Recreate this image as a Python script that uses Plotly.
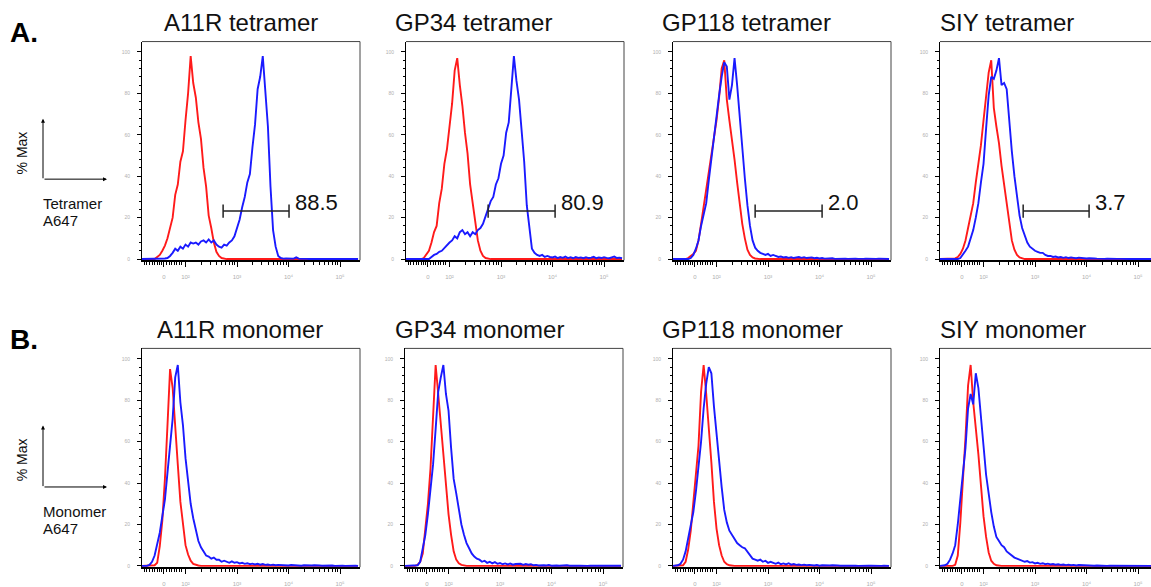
import numpy as np
import plotly.graph_objects as go

W, H = 1151, 587

# Histogram bin centres on the display (biexponential) A647 axis, in decades
CHANNEL = np.round(np.arange(1.15, 5.351, 0.05), 2)

# x-axis labelling of the biexponential scale
X_TICK_POS = [1.58, 2, 3, 4, 5]
X_TICK_TEXT = ["0", "10\u00b2", "10\u00b3", "10\u2074", "10\u2075"]
Y_TICK_POS = [0, 20, 40, 60, 80, 100]
Y_TICK_TEXT = ["0", "20", "40", "60", "80", "100"]

TITLES_TET = ["A11R tetramer", "GP34 tetramer", "GP118 tetramer", "SIY tetramer"]
TITLES_MONO = ["A11R monomer", "GP34 monomer", "GP118 monomer", "SIY monomer"]

# tetramer-positive gate (display decades) and the % of stained cells inside it
GATE_LO = [2.73, 2.75, 2.75, 2.77]
GATE_HI = [4.01, 4.05, 4.05, 4.05]
GATE_LEVEL = 23.2
GATE_PCT = ["88.5", "80.9", "2.0", "3.7"]

# % Max histograms: CONTROL = red trace, SAMPLE = blue trace
A11R_TET_CONTROL = [
    0, 0, 0, 0, 0, 0, 1, 2, 4, 6.5,
    10, 15, 20, 31, 36, 47, 52, 67, 80, 98,
    85, 78, 66, 58, 44, 35, 21, 15, 8, 3.5,
    1.5, 0.5, 0.2, 0, 0, 0, 0, 0, 0, 0,
    0, 0, 0, 0, 0, 0, 0, 0, 0, 0,
    0, 0, 0, 0, 0, 0, 0, 0, 0, 0,
    0, 0, 0, 0, 0, 0, 0, 0, 0, 0,
    0, 0, 0, 0, 0, 0, 0, 0, 0, 0,
    0, 0, 0, 0, 0]
A11R_TET_SAMPLE = [
    0, 0, 0, 0, 0, 0, 0, 0, 0, 0.3,
    0.5, 1.5, 3, 5, 4, 6, 5, 7, 6, 8,
    7.5, 8, 7, 8.5, 9, 8, 9.5, 8, 9, 7,
    6, 5.5, 7, 6.5, 8, 9, 11, 15, 19, 25,
    30, 37, 41, 54, 65, 82, 88, 98, 83, 64,
    35, 14, 6, 1.5, 0.5, 0.2, 0.3, 0.2, 0.1, 0.2,
    0.8, 0.2, 0.1, 0.2, 0.1, 0, 0.1, 0, 0, 0,
    0, 0.1, 0, 0, 0.1, 0, 0, 0.1, 0, 0,
    0, 0.1, 0, 0, 0]

GP34_TET_CONTROL = [
    0, 0, 0, 0, 0, 0, 0, 0.5, 2, 4,
    8, 13, 16, 27, 34, 46, 53, 65, 75, 91,
    97, 84, 74, 61, 51, 36, 27, 16, 9, 4,
    1.5, 0.5, 0.2, 0, 0, 0, 0, 0, 0, 0,
    0, 0, 0, 0, 0, 0, 0, 0, 0, 0,
    0, 0, 0, 0, 0, 0, 0, 0, 0, 0,
    0, 0, 0, 0, 0, 0, 0, 0, 0, 0,
    0, 0, 0, 0, 0, 0, 0, 0, 0, 0,
    0, 0, 0, 0, 0]
GP34_TET_SAMPLE = [
    0, 0, 0, 0, 0, 0, 0, 0, 0, 0,
    1, 2, 2.5, 3.5, 4, 5.5, 7, 8, 9, 11,
    10, 13, 14, 12, 13, 11, 13, 12, 14, 15,
    17, 21, 24, 28, 30, 36, 39, 46, 50, 61,
    66, 83, 98, 86, 77, 62, 47, 26, 14, 5,
    3, 2, 1.5, 2, 1, 1.5, 1, 0.8, 1.2, 0.5,
    1, 0.6, 1.2, 0.5, 0.9, 0.4, 1, 0.6, 0.8, 0.4,
    0.9, 0.5, 0.7, 1.1, 0.4, 0.8, 0.5, 0.9, 0.6, 0.4,
    0.8, 1.2, 0.5, 0.7, 0.4]

GP118_TET_CONTROL = [
    0, 0, 0, 0, 0, 0, 0.5, 1.5, 2.5, 4,
    9, 17, 25, 33, 43, 51, 59, 67, 78, 92,
    96, 77, 67, 58, 48, 37, 27, 17, 10, 4.5,
    2, 0.8, 0.3, 0, 0, 0, 0, 0, 0, 0,
    0, 0, 0, 0, 0, 0, 0, 0, 0, 0,
    0, 0, 0, 0, 0, 0, 0, 0, 0, 0,
    0, 0, 0, 0, 0, 0, 0, 0, 0, 0,
    0, 0, 0, 0, 0, 0, 0, 0, 0, 0,
    0, 0, 0, 0, 0]
GP118_TET_SAMPLE = [
    0, 0, 0, 0, 0, 0, 0, 0.5, 2, 5,
    9, 16, 22, 27, 38, 49, 58, 69, 79, 88,
    95, 93, 77, 84, 97, 84, 68, 53, 39, 26,
    16, 9, 5.5, 4, 3, 2.5, 2, 2.5, 1.5, 2,
    1.5, 1, 1.2, 0.8, 1, 0.6, 0.9, 0.5, 0.8, 1,
    0.6, 0.9, 0.5, 0.7, 0.8, 0.4, 0.6, 0.3, 0.5, 0.2,
    0.3, 0.2, 0.4, 0.1, 0.2, 0.3, 0.1, 0.2, 0.1, 0.2,
    0.1, 0.2, 0.1, 0, 0.1, 0.2, 0.1, 0, 0.1, 0.1,
    0.2, 0.1, 0, 0.1, 0]

SIY_TET_CONTROL = [
    0, 0, 0, 0, 0, 0, 0.3, 1, 2.5, 5,
    9, 15, 21, 27, 37, 46, 55, 67, 78, 90,
    96, 73, 64, 56, 45, 36, 25, 16, 9, 4.5,
    2, 0.8, 0.3, 0, 0, 0, 0, 0, 0, 0,
    0, 0, 0, 0, 0, 0, 0, 0, 0, 0,
    0, 0, 0, 0, 0, 0, 0, 0, 0, 0,
    0, 0, 0, 0, 0, 0, 0, 0, 0, 0,
    0, 0, 0, 0, 0, 0, 0, 0, 0, 0,
    0, 0, 0, 0, 0]
SIY_TET_SAMPLE = [
    0, 0, 0, 0, 0, 0, 0, 0, 0.5, 2,
    4, 6, 10, 14, 20, 27, 37, 46, 63, 79,
    88, 87, 91, 97, 84, 85, 82, 65, 52, 40,
    30, 21, 15, 11, 8, 6, 5, 4, 3.5, 3,
    3, 2, 1.5, 1.5, 1, 1.2, 0.8, 1, 0.6, 0.9,
    0.5, 0.8, 0.6, 0.4, 0.7, 0.5, 0.6, 0.3, 0.4, 0.2,
    0.3, 0.2, 0.1, 0.3, 0.1, 0.2, 0.1, 0.1, 0.2, 0.1,
    0.1, 0, 0.2, 0.1, 0, 0.1, 0.1, 0.2, 0, 0.1,
    0.1, 0, 0.1, 0.2, 0]

A11R_MONO_CONTROL = [
    0, 0, 0, 0, 0, 0.3, 1.5, 9.5, 22, 42,
    68, 95, 86, 65, 49, 31, 19, 10, 5.5, 2.5,
    1, 0.5, 0.2, 0, 0, 0, 0, 0, 0, 0,
    0, 0, 0, 0, 0, 0, 0, 0, 0, 0,
    0, 0, 0, 0, 0, 0, 0, 0, 0, 0,
    0, 0, 0, 0, 0, 0, 0, 0, 0, 0,
    0, 0, 0, 0, 0, 0, 0, 0, 0, 0,
    0, 0, 0, 0, 0, 0, 0, 0, 0, 0,
    0, 0, 0, 0, 0]
A11R_MONO_SAMPLE = [
    0, 0, 0, 0.5, 2, 5, 10, 16, 24, 32,
    45, 58, 71, 91, 97, 79, 68, 52, 42, 30,
    23, 17, 12, 9, 7, 5, 4.5, 3.5, 4, 3,
    3, 2, 2.5, 2, 1.5, 2.2, 1.5, 1.8, 1.2, 1.5,
    1, 1.3, 0.8, 1.1, 0.7, 1, 0.6, 0.9, 0.5, 0.7,
    0.4, 0.6, 0.3, 0.5, 0.4, 0.3, 0.5, 0.2, 0.4, 0.3,
    0.2, 0.3, 0.1, 0.3, 0.2, 0.1, 0.2, 0.3, 0.1, 0.2,
    0.1, 0.2, 0.1, 0.1, 0.2, 0, 0.1, 0.2, 0.1, 0,
    0.1, 0.1, 0, 0.1, 0]

GP34_MONO_CONTROL = [
    0, 0, 0, 0, 0, 0.5, 2, 6, 17, 30,
    47, 70, 97, 83, 68, 51, 37, 25, 15, 7,
    3, 1.3, 0.5, 0.2, 0, 0, 0, 0, 0, 0,
    0, 0, 0, 0, 0, 0, 0, 0, 0, 0,
    0, 0, 0, 0, 0, 0, 0, 0, 0, 0,
    0, 0, 0, 0, 0, 0, 0, 0, 0, 0,
    0, 0, 0, 0, 0, 0, 0, 0, 0, 0,
    0, 0, 0, 0, 0, 0, 0, 0, 0, 0,
    0, 0, 0, 0, 0]
GP34_MONO_SAMPLE = [
    0, 0, 0, 0, 0, 0.3, 2, 8, 15, 25,
    38, 49, 66, 84, 91, 97, 83, 75, 57, 42,
    35, 27, 20, 15, 11, 8.5, 6, 4.5, 3.5, 3,
    2, 2.5, 1.5, 2, 1.2, 1.8, 1, 1.4, 0.8, 1.2,
    0.7, 1.1, 0.6, 0.9, 0.8, 1, 0.5, 0.9, 0.6, 0.8,
    0.3, 0.5, 0.2, 0.4, 0.3, 0.2, 0.4, 0.1, 0.3, 0.2,
    0.1, 0.2, 0.1, 0.3, 0.1, 0, 0.2, 0.1, 0.1, 0,
    0.1, 0, 0.1, 0.1, 0, 0.1, 0, 0.1, 0, 0.1,
    0, 0.1, 0, 0, 0.1]

GP118_MONO_CONTROL = [
    0, 0, 0, 0, 0.3, 2, 8, 17, 30, 45,
    58, 84, 97, 83, 68, 50, 31, 18, 10, 5,
    2, 0.8, 0.3, 0, 0, 0, 0, 0, 0, 0,
    0, 0, 0, 0, 0, 0, 0, 0, 0, 0,
    0, 0, 0, 0, 0, 0, 0, 0, 0, 0,
    0, 0, 0, 0, 0, 0, 0, 0, 0, 0,
    0, 0, 0, 0, 0, 0, 0, 0, 0, 0,
    0, 0, 0, 0, 0, 0, 0, 0, 0, 0,
    0, 0, 0, 0, 0]
GP118_MONO_SAMPLE = [
    0, 0, 0.3, 1, 3, 7, 13, 19, 26, 36,
    47, 60, 76, 88, 96, 93, 77, 63, 50, 38,
    27, 21, 17, 15, 13, 11, 10, 9, 8.5, 7,
    5, 3.5, 3, 2.5, 3, 2, 2.5, 1.5, 2, 1.5,
    1, 1.6, 0.8, 1.2, 0.7, 1.3, 0.6, 0.9, 0.5, 0.7,
    0.4, 0.6, 0.3, 0.5, 0.3, 0.2, 0.4, 0.1, 0.3, 0.2,
    0.1, 0.2, 0.3, 0.1, 0.2, 0.1, 0, 0.2, 0.1, 0.1,
    0.2, 0.1, 0, 0.1, 0.1, 0, 0.1, 0.1, 0, 0.1,
    0.1, 0, 0.1, 0, 0]

SIY_MONO_CONTROL = [
    0, 0, 0, 0, 0, 0, 0.5, 5, 21, 40,
    62, 87, 97, 79, 68, 54, 39, 24, 14, 6.5,
    2.5, 1, 0.3, 0, 0, 0, 0, 0, 0, 0,
    0, 0, 0, 0, 0, 0, 0, 0, 0, 0,
    0, 0, 0, 0, 0, 0, 0, 0, 0, 0,
    0, 0, 0, 0, 0, 0, 0, 0, 0, 0,
    0, 0, 0, 0, 0, 0, 0, 0, 0, 0,
    0, 0, 0, 0, 0, 0, 0, 0, 0, 0,
    0, 0, 0, 0, 0]
SIY_MONO_SAMPLE = [
    0, 0, 0.3, 1, 3, 6, 10, 20, 33, 45,
    57, 76, 83, 78, 93, 86, 70, 58, 44, 34,
    26, 19, 14, 12, 10, 9, 7, 6, 5, 4,
    3.5, 3, 2.5, 2, 2.3, 1.6, 1.8, 1.2, 1.5, 1,
    1.3, 0.8, 1.1, 0.7, 0.9, 0.6, 0.8, 0.5, 0.7, 0.4,
    0.6, 0.3, 0.5, 0.2, 0.4, 0.3, 0.2, 0.1, 0.3, 0.2,
    0.1, 0.2, 0.1, 0.1, 0.2, 0, 0.1, 0.1, 0, 0.2,
    0.1, 0, 0.1, 0.1, 0, 0.1, 0, 0.1, 0.1, 0,
    0.1, 0, 0, 0.1, 0]

HISTOGRAMS = [
    (A11R_TET_CONTROL, A11R_TET_SAMPLE),
    (GP34_TET_CONTROL, GP34_TET_SAMPLE),
    (GP118_TET_CONTROL, GP118_TET_SAMPLE),
    (SIY_TET_CONTROL, SIY_TET_SAMPLE),
    (A11R_MONO_CONTROL, A11R_MONO_SAMPLE),
    (GP34_MONO_CONTROL, GP34_MONO_SAMPLE),
    (GP118_MONO_CONTROL, GP118_MONO_SAMPLE),
    (SIY_MONO_CONTROL, SIY_MONO_SAMPLE),
]
for pair in HISTOGRAMS:
    for series in pair:
        assert len(series) == len(CHANNEL)

# ---- panel geometry (pixels) ----
COL_LEFT = [[142, 406, 673, 940], [142, 405, 673, 940]]
ROW_TB = [(42, 263), (352, 573)]
TITLE_LEFT = [[162, 393, 660, 938], [155, 393, 660, 938]]
TITLE_Y = [23, 333]
PANEL_W = 218
PX_PER_DECADE = 51.5
U_LEFT = 1.155
Y_RANGE = [-0.6, 105]

RED = "#ff1a1a"
BLUE = "#1a1aff"
FONT = "Liberation Sans, Arial, Helvetica, sans-serif"

# minor ticks of the biexponential x scale
x_minor = [1.2, 1.25, 1.3, 1.35, 1.4, 1.45, 1.5, 1.54, 1.63, 1.68, 1.73, 1.78, 1.83, 1.88, 1.93]
for d in (2, 3, 4):
    for k in range(2, 10):
        x_minor.append(round(d + np.log10(k), 4))
y_minor = [v for v in range(0, 104, 4) if v % 20 != 0]

fig = go.Figure()
layout = dict(
    width=W, height=H, margin=dict(l=0, r=0, t=0, b=0),
    paper_bgcolor="white", plot_bgcolor="white", showlegend=False,
)
shapes = []
annotations = []

for n in range(8):
    row, col = divmod(n, 4)
    left = COL_LEFT[row][col]
    right = min(left + PANEL_W, W)
    top, bottom = ROW_TB[row]
    ax_id = "" if n == 0 else str(n + 1)
    xname, yname = "xaxis" + ax_id, "yaxis" + ax_id
    xref, yref = "x" + ax_id, "y" + ax_id

    layout[xname] = dict(
        domain=[left / W, right / W],
        range=[U_LEFT, U_LEFT + (right - left) / PX_PER_DECADE],
        anchor=yref, showgrid=False, zeroline=False,
        showline=True, linecolor="black", linewidth=1.5, layer="below traces",
        tickmode="array", tickvals=X_TICK_POS, ticktext=X_TICK_TEXT,
        ticks="outside", ticklen=5, tickwidth=1, tickcolor="black",
        tickfont=dict(size=6, color="#b0b0b0", family=FONT), ticklabelstandoff=5,
        minor=dict(tickvals=x_minor, ticks="outside", ticklen=3, tickwidth=1,
                   tickcolor="black", showgrid=False),
        fixedrange=True,
    )
    layout[yname] = dict(
        domain=[1 - bottom / H, 1 - top / H], range=Y_RANGE,
        anchor=xref, showgrid=False, zeroline=False,
        showline=True, linecolor="black", linewidth=1, layer="below traces",
        tickmode="array", tickvals=Y_TICK_POS, ticktext=Y_TICK_TEXT,
        ticks="outside", ticklen=4, tickwidth=1, tickcolor="black",
        tickfont=dict(size=5, color="#b0b0b0", family=FONT), ticklabelstandoff=6,
        minor=dict(tickvals=y_minor, ticks="outside", ticklen=2, tickwidth=1,
                   tickcolor="black", showgrid=False),
        fixedrange=True,
    )

    control, sample = HISTOGRAMS[n]
    fig.add_trace(go.Scatter(x=CHANNEL, y=control, mode="lines", xaxis=xref, yaxis=yref,
                             line=dict(color=RED, width=1.9), hoverinfo="skip"))
    fig.add_trace(go.Scatter(x=CHANNEL, y=sample, mode="lines", xaxis=xref, yaxis=yref,
                             line=dict(color=BLUE, width=1.9), hoverinfo="skip"))

    # thin frame on top and right
    shapes.append(dict(type="line", xref=xref + " domain", yref=yref + " domain",
                       x0=0, x1=1, y0=1, y1=1, line=dict(color="#444", width=1)))
    if right < W:
        shapes.append(dict(type="line", xref=xref + " domain", yref=yref + " domain",
                           x0=1, x1=1, y0=0, y1=1, line=dict(color="#444", width=1)))

    # panel title
    titles = TITLES_TET if row == 0 else TITLES_MONO
    annotations.append(dict(text=titles[col], xref="paper", yref="paper",
                            x=TITLE_LEFT[row][col] / W, y=1 - TITLE_Y[row] / H,
                            xanchor="left", yanchor="middle", showarrow=False,
                            font=dict(size=24, color="#111", family=FONT)))

    # gate bar with percentage
    if row == 0:
        lo, hi = GATE_LO[col], GATE_HI[col]
        gl = dict(color="#222", width=1.5)
        shapes.append(dict(type="line", xref=xref, yref=yref, x0=lo, x1=hi,
                           y0=GATE_LEVEL, y1=GATE_LEVEL, line=gl))
        for xv in (lo, hi):
            shapes.append(dict(type="line", xref=xref, yref=yref, x0=xv, x1=xv,
                               y0=GATE_LEVEL - 3.2, y1=GATE_LEVEL + 3.2, line=gl))
        annotations.append(dict(text=GATE_PCT[col], xref=xref, yref=yref, x=hi, y=GATE_LEVEL,
                                xanchor="left", yanchor="middle", xshift=4, yshift=9,
                                showarrow=False, font=dict(size=22, color="#111", family=FONT)))

# row letters
for letter, ypx in (("A.", 33), ("B.", 343)):
    annotations.append(dict(text="<b>%s</b>" % letter, xref="paper", yref="paper",
                            x=8 / W, y=1 - ypx / H, xanchor="left", yanchor="middle",
                            showarrow=False, font=dict(size=28, color="black", family=FONT)))

# axis key on the left of each row
for (corner_y, tip_y, lab_y, word) in ((181, 120, 153, "Tetramer"), (492, 430, 463, "Monomer")):
    annotations.append(dict(text="", xref="paper", yref="paper", x=43 / W, y=1 - tip_y / H,
                            ax=0, ay=corner_y - tip_y, showarrow=True, arrowhead=2,
                            arrowsize=0.8, arrowwidth=1, arrowcolor="black", standoff=0))
    annotations.append(dict(text="", xref="paper", yref="paper", x=107 / W, y=1 - corner_y / H,
                            ax=-64, ay=0, showarrow=True, arrowhead=2,
                            arrowsize=0.8, arrowwidth=1, arrowcolor="black", standoff=0))
    annotations.append(dict(text="% Max", xref="paper", yref="paper", x=22 / W, y=1 - (lab_y + 2) / H,
                            xanchor="center", yanchor="middle", textangle=-90, showarrow=False,
                            font=dict(size=14, color="#111", family=FONT)))
    annotations.append(dict(text=word, xref="paper", yref="paper", x=41 / W,
                            y=1 - (corner_y + 25) / H, xanchor="left", yanchor="middle",
                            showarrow=False, font=dict(size=15, color="#111", family=FONT)))
    annotations.append(dict(text="A647", xref="paper", yref="paper", x=41 / W,
                            y=1 - (corner_y + 42) / H, xanchor="left", yanchor="middle",
                            showarrow=False, font=dict(size=15, color="#111", family=FONT)))

layout["shapes"] = shapes
layout["annotations"] = annotations
fig.update_layout(**layout)
fig.write_html("out.html")
